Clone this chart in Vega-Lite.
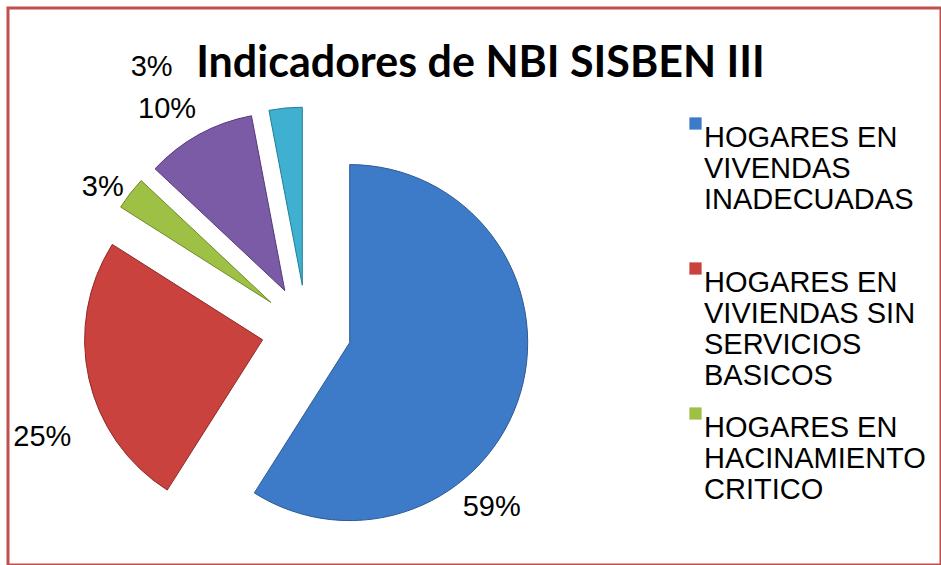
{
  "$schema": "https://vega.github.io/schema/vega-lite/v6.json",
  "width": 933,
  "height": 557,
  "autosize": {"type": "none"},
  "padding": {"left": 8, "top": 8, "right": 0, "bottom": 0},
  "background": "white",
  "config": {"view": {"stroke": "#c0504d", "strokeWidth": 3}},
  "title": {
    "text": "Indicadores de NBI SISBEN III",
    "font": "Lato",
    "fontWeight": "bold",
    "fontSize": 43,
    "color": "#000000",
    "anchor": "middle",
    "frame": "group",
    "dx": 6,
    "dy": 82
  },
  "data": {
    "values": [
      {"cat": "HOGARES EN VIVENDAS INADECUADAS", "value": 0.59},
      {"cat": "HOGARES EN VIVIENDAS SIN SERVICIOS BASICOS", "value": 0.25},
      {"cat": "HOGARES EN HACINAMIENTO CRITICO", "value": 0.03},
      {"cat": "HOGARES CON ALTA DEPENDENCIA ECONOMICA", "value": 0.10},
      {"cat": "HOGARES CON NIÑOS EN EDAD ESCOLAR QUE NO ASISTEN A LA ESCUELA", "value": 0.03}
    ]
  },
  "transform": [{"stack": "value", "groupby": [], "as": ["v0", "v1"]}],
  "encoding": {
    "x": {"value": 298.5},
    "y": {"value": 322}
  },
  "layer": [
    {
      "transform": [{"filter": "datum.cat == 'HOGARES EN VIVENDAS INADECUADAS'"}],
      "layer": [
        {
          "mark": {"type": "arc", "outerRadius": 178, "xOffset": 43.2, "yOffset": 12.6, "stroke": "#2c5a94", "strokeWidth": 1},
          "encoding": {
            "theta": {"field": "v0", "type": "quantitative", "stack": null, "scale": {"domain": [0, 1], "range": [0, 6.283185]}},
            "theta2": {"field": "v1"},
            "color": {"field": "cat", "type": "nominal"}
          }
        },
        {
          "mark": {"type": "text", "radius": 256, "thetaOffset": 2.333, "font": "Liberation Sans", "fontSize": 29, "color": "#000000", "align": "center", "baseline": "middle"},
          "encoding": {
            "theta": {"field": "v0", "type": "quantitative", "stack": null},
            "text": {"field": "value", "type": "quantitative", "format": ".0%"}
          }
        }
      ]
    },
    {
      "transform": [{"filter": "datum.cat == 'HOGARES EN VIVIENDAS SIN SERVICIOS BASICOS'"}],
      "layer": [
        {
          "mark": {"type": "arc", "outerRadius": 178, "xOffset": -43.9, "yOffset": 9.8, "stroke": "#8e2a27", "strokeWidth": 1},
          "encoding": {
            "theta": {"field": "v0", "type": "quantitative", "stack": null},
            "theta2": {"field": "v1"},
            "color": {"field": "cat", "type": "nominal"}
          }
        },
        {
          "mark": {"type": "text", "radius": 285, "thetaOffset": 0.621, "font": "Liberation Sans", "fontSize": 29, "color": "#000000", "align": "center", "baseline": "middle"},
          "encoding": {
            "theta": {"field": "v0", "type": "quantitative", "stack": null},
            "text": {"field": "value", "type": "quantitative", "format": ".0%"}
          }
        }
      ]
    },
    {
      "transform": [{"filter": "datum.cat == 'HOGARES EN HACINAMIENTO CRITICO'"}],
      "layer": [
        {
          "mark": {"type": "arc", "outerRadius": 178, "xOffset": -35.6, "yOffset": -27.6, "stroke": "#6f8a2c", "strokeWidth": 1},
          "encoding": {
            "theta": {"field": "v0", "type": "quantitative", "stack": null},
            "theta2": {"field": "v1"},
            "color": {"field": "cat", "type": "nominal"}
          }
        },
        {
          "mark": {"type": "text", "radius": 249, "thetaOffset": 0.047, "font": "Liberation Sans", "fontSize": 29, "color": "#000000", "align": "center", "baseline": "middle"},
          "encoding": {
            "theta": {"field": "v0", "type": "quantitative", "stack": null},
            "text": {"field": "value", "type": "quantitative", "format": ".0%"}
          }
        }
      ]
    },
    {
      "transform": [{"filter": "datum.cat == 'HOGARES CON ALTA DEPENDENCIA ECONOMICA'"}],
      "layer": [
        {
          "mark": {"type": "arc", "outerRadius": 178, "xOffset": -21.7, "yOffset": -39.4, "stroke": "#55397a", "strokeWidth": 1},
          "encoding": {
            "theta": {"field": "v0", "type": "quantitative", "stack": null},
            "theta2": {"field": "v1"},
            "color": {"field": "cat", "type": "nominal"}
          }
        },
        {
          "mark": {"type": "text", "radius": 261, "thetaOffset": 0.253, "font": "Liberation Sans", "fontSize": 29, "color": "#000000", "align": "center", "baseline": "middle"},
          "encoding": {
            "theta": {"field": "v0", "type": "quantitative", "stack": null},
            "text": {"field": "value", "type": "quantitative", "format": ".0%"}
          }
        }
      ]
    },
    {
      "transform": [{"filter": "datum.cat == 'HOGARES CON NIÑOS EN EDAD ESCOLAR QUE NO ASISTEN A LA ESCUELA'"}],
      "layer": [
        {
          "mark": {"type": "arc", "outerRadius": 178, "xOffset": -4.2, "yOffset": -44.8, "stroke": "#1f7f99", "strokeWidth": 1},
          "encoding": {
            "theta": {"field": "v0", "type": "quantitative", "stack": null},
            "theta2": {"field": "v1"},
            "color": {
              "field": "cat",
              "type": "nominal",
              "scale": {
                "domain": [
                  "HOGARES EN VIVENDAS INADECUADAS",
                  "HOGARES EN VIVIENDAS SIN SERVICIOS BASICOS",
                  "HOGARES EN HACINAMIENTO CRITICO",
                  "HOGARES CON ALTA DEPENDENCIA ECONOMICA",
                  "HOGARES CON NIÑOS EN EDAD ESCOLAR QUE NO ASISTEN A LA ESCUELA"
                ],
                "range": ["#3d7bc9", "#c9423e", "#9dc045", "#7b5ba6", "#3fb0cf"]
              },
              "legend": {
                "orient": "none",
                "legendX": 673,
                "legendY": 101,
                "title": null,
                "values": [
                  "HOGARES EN VIVENDAS INADECUADAS",
                  "HOGARES EN VIVIENDAS SIN SERVICIOS BASICOS",
                  "HOGARES EN HACINAMIENTO CRITICO"
                ],
                "symbolType": "square",
                "symbolSize": 150,
                "symbolStrokeWidth": 0,
                "labelFont": "Liberation Sans",
                "labelFontSize": 29,
                "labelColor": "#000000",
                "labelLimit": 400,
                "labelOffset": -6,
                "labelBaseline": "top",
                "rowPadding": 8,
                "labelExpr": "datum.label == 'HOGARES EN VIVENDAS INADECUADAS' ? ['HOGARES EN', 'VIVENDAS', 'INADECUADAS', ''] : datum.label == 'HOGARES EN VIVIENDAS SIN SERVICIOS BASICOS' ? ['HOGARES EN', 'VIVIENDAS SIN', 'SERVICIOS', 'BASICOS'] : ['HOGARES EN', 'HACINAMIENTO', 'CRITICO', '']"
              }
            }
          }
        },
        {
          "mark": {"type": "text", "radius": 305, "thetaOffset": -0.344, "font": "Liberation Sans", "fontSize": 29, "color": "#000000", "align": "center", "baseline": "middle"},
          "encoding": {
            "theta": {"field": "v0", "type": "quantitative", "stack": null},
            "text": {"field": "value", "type": "quantitative", "format": ".0%"}
          }
        }
      ]
    }
  ]
}
